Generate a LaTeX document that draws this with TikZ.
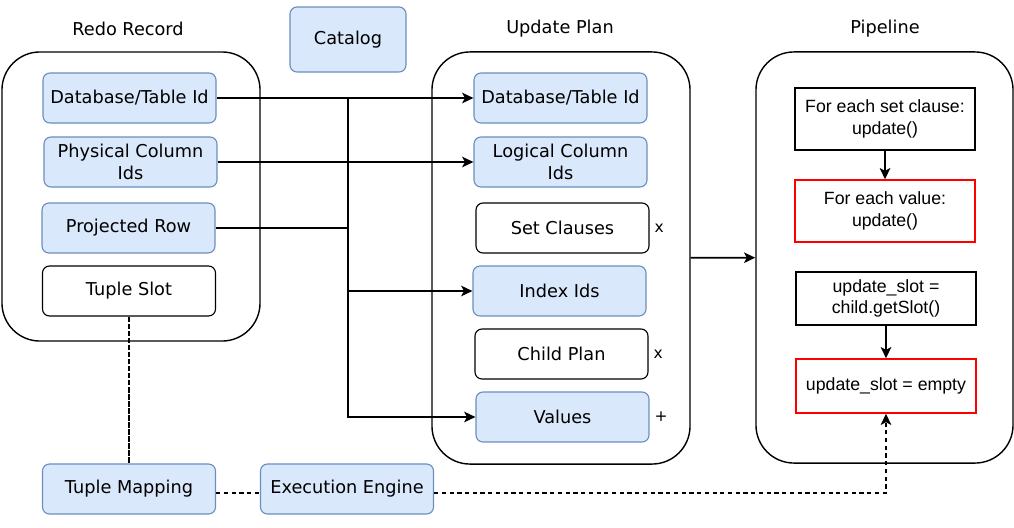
\documentclass[tikz,border=0pt]{standalone}
\usepackage{fontspec}
\setmainfont{DejaVu Sans}
\newfontfamily\arialf{Liberation Sans}
\usetikzlibrary{arrows.meta,positioning}
\definecolor{bfill}{HTML}{DAE8FC}
\definecolor{bline}{HTML}{6C8EBF}
\definecolor{rline}{HTML}{FF0000}
\newcommand{\dfont}{\fontsize{12.6}{15.2}\selectfont}

\tikzset{
  field/.style={draw=bline, fill=bfill, rounded corners=5pt, line width=0.8pt, minimum width=4.325cm, minimum height=1.25cm, align=center, inner sep=1pt},
  wfield/.style={field, draw=black, fill=white},
  group/.style={draw, rounded corners=0.95cm, line width=1pt},
  stage/.style={draw, line width=1pt, minimum width=4.5cm, align=center, font=\arialf\dfont},
  arr/.style={-{Stealth[length=8pt,width=7.5pt,inset=2pt]}, line width=1.3pt},
  dsh/.style={line width=1.2pt, dash pattern=on 3pt off 2.5pt},
}

\begin{document}
\begin{tikzpicture}[x=0.025cm, y=-0.025cm, font=\dfont]
\useasboundingbox (0,0) rectangle (1014,527);

% titles
\node (trr) at (128,29) {Redo Record};
\node (tup) at (560,29) {Update Plan};
\node (tpl) at (885,29) {Pipeline};
\node[field, minimum width=2.9cm, minimum height=1.625cm] (cat) at (348,39.5) {Catalog};

% groups
\node[group, minimum width=6.45cm, minimum height=7.225cm] (rr) at (131,196.5) {};
\node[group, minimum width=6.45cm, minimum height=10.3cm] (up) at (561,258) {};
\node[group, minimum width=6.425cm, minimum height=10.275cm] (pl) at (884.5,257.5) {};

% redo record
\node[field] (db1) at (129.5,98) {Database/Table Id};
\node[field] (pc) at (130.5,162) {Physical Column\\Ids};
\node[field] (pr) at (128.5,228) {Projected Row};
\node[wfield] (ts) at (129,291) {Tuple Slot};

% update plan
\node[field] (db2) at (560.5,98) {Database/Table Id};
\node[field] (lc) at (560.5,162) {Logical Column\\Ids};
\node[wfield] (sc) at (562.5,228) {Set Clauses};
\node[field] (idx) at (559.5,291) {Index Ids};
\node[wfield] (cp) at (561.5,354) {Child Plan};
\node[field] (vals) at (562.5,417) {Values};
\node[right=0pt of sc, font=\fontsize{11}{13}\selectfont] (scx) {x};
\node[right=0pt of cp, font=\fontsize{11}{13}\selectfont] (cpx) {x};
\node[right=0pt of vals, font=\fontsize{11}{13}\selectfont] (valp) {+};

% pipeline
\node[stage, minimum height=1.55cm] (c1) at (885,119) {For each set clause:\\update()};
\node[stage, draw=rline, minimum height=1.55cm] (c2) at (885,211) {For each value:\\update()};
\node[stage, minimum height=1.325cm] (c3) at (886,298.5) {update\_slot =\\child.getSlot()};
\node[stage, draw=rline, minimum height=1.35cm] (c4) at (886,386) {update\_slot = empty};
\draw[arr] (c1) -- (c2);
\draw[arr] (c3) -- (c4);

% bottom
\node[field] (tm) at (129,489) {Tuple Mapping};
\node[field] (ee) at (347,489) {Execution Engine};

% connectors
\coordinate (jn) at (348,228);
\draw[arr] (db1) -- (db2);
\draw[arr] (pc) -- (lc);
\draw[line width=1.3pt] (pr) -- (jn) -- (jn |- db1);
\draw[arr] (jn) |- (idx);
\draw[arr] (jn) |- (vals);
\draw[arr] (up) -- (pl);

\draw[line width=1.3pt, dash pattern=on 4pt off 1pt] (ts) -- (tm);
\draw[dsh] ([yshift=-0.1cm]tm.east) -- ([yshift=-0.1cm]ee.west);
\draw[dsh,arr] ([yshift=-0.1cm]ee.east) -| (c4);
\end{tikzpicture}
\end{document}
